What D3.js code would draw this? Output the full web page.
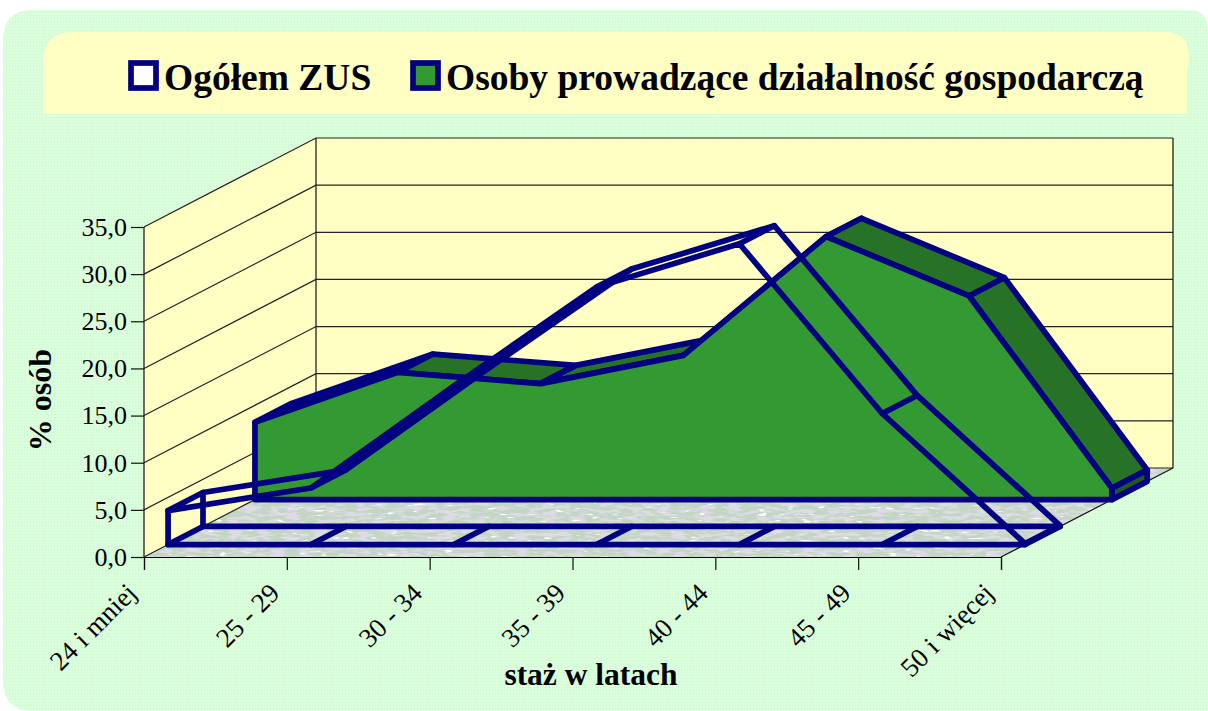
<!DOCTYPE html>
<html>
<head>
<meta charset="utf-8">
<title>staż w latach</title>
<script src="https://cdn.jsdelivr.net/npm/d3@7"></script>
<style>
	html, body { margin: 0; padding: 0; background: #fff; }
	svg { display: block; }
	text { font-family: "Liberation Serif", serif; fill: #000; }
</style>
</head>
<body>
<div id="chart"></div>
<script>
// values
var categories = ['24 i mniej', '25 - 29', '30 - 34', '35 - 39', '40 - 44', '45 - 49', '50 i więcej'];
var ogolemZus = [3.6, 6.0, 16.8, 27.3, 31.9, 13.9, 0.1];
var dzialalnosc = [8.2, 13.5, 12.3, 15.3, 27.9, 21.6, 1.2];
var yTicks = [0, 5, 10, 15, 20, 25, 30, 35];
var legendNames = ['Ogółem ZUS', 'Osoby prowadzące działalność gospodarczą'];

var width = 1208,
	height = 711;

var navy = '#000080',
	green = '#339933',
	darkGreen = '#267328',
	capGreen = '#1d5a1d',
	wallColor = '#ffffc4',
	lineW = 5.7;

var svg = d3.select('#chart').append('svg')
	.attr('width', width)
	.attr('height', height);

var defs = svg.append('defs');

// fine checker seen on the light green background
var pattern = defs.append('pattern')
	.attr('id', 'panelTexture')
	.attr('width', 3)
	.attr('height', 3)
	.attr('patternUnits', 'userSpaceOnUse');
pattern.append('rect').attr('width', 3).attr('height', 3).attr('fill', '#dcffdc');
pattern.append('rect').attr('width', 1).attr('height', 3).attr('fill', '#d6fbd8');
pattern.append('rect').attr('width', 3).attr('height', 1).attr('fill', '#d6fbd8');

// grainy floor
var grain = defs.append('filter')
	.attr('id', 'floorGrain')
	.attr('x', 0).attr('y', 0).attr('width', 1).attr('height', 1);
grain.append('feTurbulence')
	.attr('type', 'fractalNoise')
	.attr('baseFrequency', '0.07 0.3')
	.attr('numOctaves', 2)
	.attr('seed', 4)
	.attr('result', 'noise');
grain.append('feColorMatrix')
	.attr('in', 'noise')
	.attr('type', 'matrix')
	.attr('values', '0 0 0 0 0.73  0 0 0 0 0.71  0 0 0 0 0.79  6 0 0 0 -2.7')
	.attr('result', 'dark');
grain.append('feColorMatrix')
	.attr('in', 'noise')
	.attr('type', 'matrix')
	.attr('values', '0 0 0 0 1  0 0 0 0 1  0 0 0 0 1  0 8 0 0 -5.4')
	.attr('result', 'light');
var merge = grain.append('feMerge').attr('result', 'both');
merge.append('feMergeNode').attr('in', 'dark');
merge.append('feMergeNode').attr('in', 'light');
grain.append('feComposite')
	.attr('in', 'both')
	.attr('in2', 'SourceAlpha')
	.attr('operator', 'in');

// backgrounds
svg.append('path')
	.attr('d', 'M3,40 Q3,10 33,10 L1188,10 Q1208,10 1208,30 L1208,711 L33,711 Q3,711 3,681 Z')
	.attr('fill', 'url(#panelTexture)');
svg.append('path')
	.attr('d', 'M43,114 L43,62 Q43,32 73,32 L1165,32 Q1189,32 1189,58 Q1189,66 1187,70 L1187,114 Z')
	.attr('fill', wallColor);

// scales, depth is the fraction of the way from the front of the floor to the wall
var x = d3.scalePoint().domain(categories).range([144, 1001]);
var y = d3.scaleLinear().domain([0, 35]).range([557, 227]);
var depthX = d3.scaleLinear().domain([0, 1]).range([0, 172]);
var depthY = d3.scaleLinear().domain([0, 1]).range([0, -89]);

function pt(i, v, d){
	return [x(categories[i]) + depthX(d), y(v) + depthY(d)];
}

var closedLine = d3.line().curve(d3.curveLinearClosed);
var openLine = d3.line();

// walls and floor
var walls = svg.append('g');
walls.append('path')
	.attr('d', closedLine([pt(0, 0, 0), pt(0, 35, 0), pt(0, 35, 1), pt(0, 0, 1)]))
	.attr('fill', wallColor);
walls.append('path')
	.attr('d', closedLine([pt(0, 0, 1), pt(0, 35, 1), pt(6, 35, 1), pt(6, 0, 1)]))
	.attr('fill', wallColor);
var floorPts = [pt(0, 0, 0), pt(6, 0, 0), pt(6, 0, 1), pt(0, 0, 1)];
walls.append('path')
	.attr('d', closedLine(floorPts))
	.attr('fill', '#c3d6c3');
walls.append('path')
	.attr('d', closedLine(floorPts))
	.attr('fill', '#000')
	.attr('filter', 'url(#floorGrain)');

yTicks.forEach(function(t){
	walls.append('path')
		.attr('d', openLine([pt(0, t, 0), pt(0, t, 1), pt(6, t, 1)]))
		.attr('fill', 'none')
		.attr('stroke', '#222')
		.attr('stroke-width', 1.2);
});
walls.append('path')
	.attr('d', openLine([pt(0, 0, 0), pt(0, 35, 0)]) + openLine([pt(0, 0, 1), pt(0, 35, 1)]) + openLine([pt(6, 0, 1), pt(6, 35, 1)]) + openLine([pt(6, 0, 0), pt(6, 0, 1)]))
	.attr('fill', 'none')
	.attr('stroke', '#111')
	.attr('stroke-width', 1.2);

// axes
var yAxis = d3.axisLeft(y)
	.tickValues(yTicks)
	.tickSize(13)
	.tickPadding(4)
	.tickFormat(function(d){ return d3.format('.1f')(d).replace('.', ','); });
var xAxis = d3.axisBottom(x)
	.tickSize(13);

var yG = svg.append('g')
	.attr('transform', 'translate(' + x(categories[0]) + ',0)')
	.call(yAxis);
yG.select('.domain').remove();
yG.selectAll('text').style('font-size', '26px');

var xG = svg.append('g')
	.attr('transform', 'translate(0,' + y(0) + ')')
	.call(xAxis);
xG.select('.domain').attr('stroke', '#000').attr('stroke-width', 1.2);
xG.selectAll('text')
	.attr('x', 0)
	.attr('y', 0)
	.attr('dy', '0.35em')
	.attr('text-anchor', 'end')
	.attr('transform', 'translate(-13,31) rotate(-45)')
	.style('font-size', '27px');
svg.selectAll('.tick line').attr('stroke', '#111').attr('stroke-width', 1.2);

function drawSeries(values, front, back, faceFill, frontFill, capFill){
	var g = svg.append('g');
	var idx = d3.range(values.length);
	var last = values.length - 1;

	// strips joining the front and back outline
	idx.slice(0, last).forEach(function(i){
		g.append('path')
			.attr('d', closedLine([pt(i, values[i], front), pt(i + 1, values[i + 1], front), pt(i + 1, values[i + 1], back), pt(i, values[i], back)]))
			.attr('fill', faceFill)
			.attr('stroke', faceFill == 'none' ? 'none' : navy)
			.attr('stroke-width', lineW)
			.attr('stroke-linejoin', 'round');
	});
	if(capFill != 'none'){
		g.append('path')
			.attr('d', closedLine([pt(last, values[last], front), pt(last, 0, front), pt(last, 0, back), pt(last, values[last], back)]))
			.attr('fill', capFill)
			.attr('stroke', navy)
			.attr('stroke-width', lineW)
			.attr('stroke-linejoin', 'round');
	}

	function outline(d){
		return idx.map(function(i){ return pt(i, values[i], d); })
			.concat([pt(last, 0, d), pt(0, 0, d)]);
	}

	if(frontFill == 'none'){
		// see-through series: every edge stays visible
		g.append('path')
			.attr('d', closedLine(outline(back)))
			.attr('fill', 'none')
			.attr('stroke', navy)
			.attr('stroke-width', lineW)
			.attr('stroke-linejoin', 'round');
		idx.forEach(function(i){
			g.append('path')
				.attr('d', openLine([pt(i, values[i], front), pt(i, values[i], back)]) + openLine([pt(i, 0, front), pt(i, 0, back)]))
				.attr('fill', 'none')
				.attr('stroke', navy)
				.attr('stroke-width', lineW)
				.attr('stroke-linecap', 'round');
		});
	}

	g.append('path')
		.attr('d', closedLine(outline(front)))
		.attr('fill', frontFill)
		.attr('stroke', navy)
		.attr('stroke-width', lineW)
		.attr('stroke-linejoin', 'round');
}

// back series first, the see-through one lies in front of it
drawSeries(dzialalnosc, 0.645, 0.85, darkGreen, green, capGreen);
drawSeries(ogolemZus, 0.14, 0.343, 'none', 'none', 'none');

// legend
var legendX = [131, 413];
var legendFill = ['#ffffff', green];
legendNames.forEach(function(name, i){
	svg.append('rect')
		.attr('x', legendX[i])
		.attr('y', 63)
		.attr('width', 25)
		.attr('height', 25)
		.attr('fill', legendFill[i])
		.attr('stroke', navy)
		.attr('stroke-width', lineW);
	svg.append('text')
		.attr('x', legendX[i] + 33)
		.attr('y', 90)
		.attr('font-size', 37.5)
		.attr('font-weight', 'bold')
		.text(name);
});

// axis titles
svg.append('text')
	.attr('x', 591)
	.attr('y', 685)
	.attr('text-anchor', 'middle')
	.attr('font-size', 31.5)
	.attr('font-weight', 'bold')
	.text('staż w latach');
svg.append('text')
	.attr('transform', 'translate(51,400) rotate(-90)')
	.attr('text-anchor', 'middle')
	.attr('font-size', 32)
	.attr('font-weight', 'bold')
	.text('% osób');
</script>
</body>
</html>
